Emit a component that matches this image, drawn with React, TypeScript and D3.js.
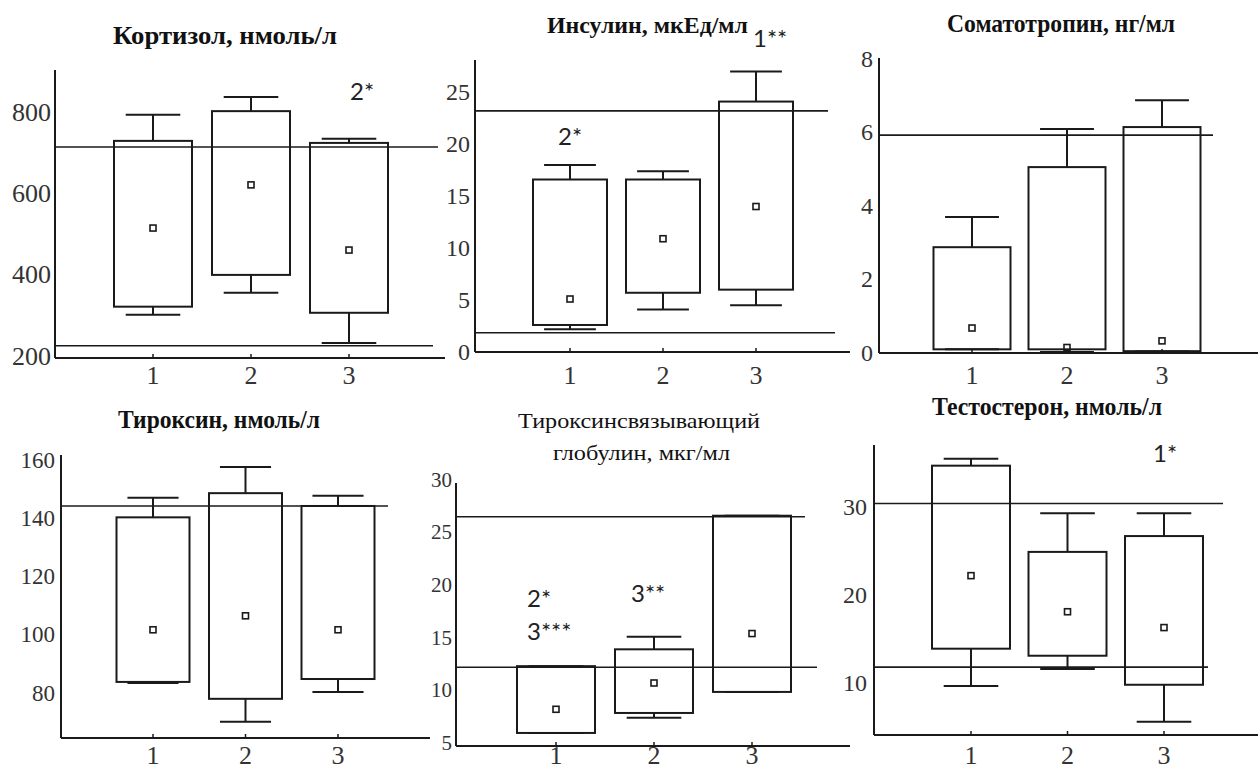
import React from 'react'
import * as d3 from 'd3'

// groups on the x axis
const groups = ['1', '2', '3']

// each row: [whisker low, box low, mean marker, box high, whisker high]
const cortisol = [[302, 322, 515, 729, 793], [356, 400, 621, 802, 837], [233, 307, 461, 724, 734]]
const cortisolNorm = [714, 226]
const cortisolTicks = [200, 400, 600, 800]

const insulin = [[2.2, 2.6, 5.1, 16.6, 18.0], [4.1, 5.7, 10.9, 16.6, 17.4], [4.5, 6.0, 14.0, 24.1, 27.0]]
const insulinNorm = [23.2, 1.85]
const insulinTicks = [0, 5, 10, 15, 20, 25]

const somatotropin = [[0.1, 0.1, 0.68, 2.88, 3.7], [0.03, 0.1, 0.15, 5.06, 6.1], [0.04, 0.05, 0.33, 6.15, 6.88]]
const somatotropinNorm = [5.93]
const somatotropinTicks = [0, 2, 4, 6, 8]

const thyroxine = [[83.4, 83.8, 101.7, 140.3, 147], [70.1, 78, 106.5, 148.6, 157.6], [80.3, 84.8, 101.7, 144.2, 147.7]]
const thyroxineNorm = [144.2]
const thyroxineTicks = [80, 100, 120, 140, 160]

const tbg = [[5.95, 5.95, 8.2, 12.3, 12.3], [7.4, 7.85, 10.7, 13.9, 15.1], [9.85, 9.85, 15.4, 26.6, 26.6]]
const tbgNorm = [26.5, 12.2]
const tbgTicks = [5, 10, 15, 20, 25, 30]

const testosterone = [[9.66, 13.9, 22.2, 34.7, 35.5], [11.6, 13.1, 18.1, 24.9, 29.3], [5.6, 9.8, 16.3, 26.7, 29.3]]
const testosteroneNorm = [30.4, 11.8]
const testosteroneTicks = [10, 20, 30]

const titles = [
  ['Кортизол, нмоль/л'],
  ['Инсулин, мкЕд/мл'],
  ['Соматотропин, нг/мл'],
  ['Тироксин, нмоль/л'],
  ['Тироксинсвязывающий', 'глобулин, мкг/мл'],
  ['Тестостерон, нмоль/л'],
]

const notes = [['2*'], ['2*', '1**'], [], [], ['2*', '3***', '3**'], ['1*']]

const serif = '"Liberation Serif", serif'
const sans = '"Lato", sans-serif'

// layout of each small chart in pixels
const panels = [
  { data: cortisol, norm: cortisolNorm, ticks: cortisolTicks, left: 55, top: 70, bottom: 358, right: 445,
    domain: [196, 903], centers: [153, 349], boxW: 78, normEnd: [438, 433], tickSize: 26, labelRight: 51, xLabelY: 384,
    title: [{ x1: 113, x2: 337, y: 44, size: 26, bold: true }],
    notePos: [[350, 100]] },
  { data: insulin, norm: insulinNorm, ticks: insulinTicks, left: 475, top: 60, bottom: 352, right: 850,
    domain: [0, 28.1], centers: [570, 756], boxW: 74, normEnd: [828, 835], tickSize: 24, labelRight: 470, xLabelY: 384,
    title: [{ x1: 547, x2: 748, y: 33, size: 24, bold: true }],
    notePos: [[558, 145], [753, 47]] },
  { data: somatotropin, norm: somatotropinNorm, ticks: somatotropinTicks, left: 879, top: 58, bottom: 353, right: 1258,
    domain: [0, 8.03], centers: [972, 1162], boxW: 77, normEnd: [1213], tickSize: 24, labelRight: 873, xLabelY: 384,
    title: [{ x1: 947, x2: 1175, y: 32, size: 25, bold: true }],
    notePos: [] },
  { data: thyroxine, norm: thyroxineNorm, ticks: thyroxineTicks, left: 61, top: 455, bottom: 738, right: 430,
    domain: [64.55, 161.7], centers: [153, 338], boxW: 73, normEnd: [388], tickSize: 23, labelRight: 55, xLabelY: 764,
    title: [{ x1: 118, x2: 320, y: 428, size: 26, bold: true }],
    notePos: [] },
  { data: tbg, norm: tbgNorm, ticks: tbgTicks, left: 456, top: 483, bottom: 746, right: 850,
    domain: [4.71, 29.71], centers: [556, 752], boxW: 78, normEnd: [805, 817], tickSize: 21, labelRight: 452, xLabelY: 764,
    title: [{ x1: 518, x2: 760, y: 428, size: 21, bold: false }, { x1: 553, x2: 730, y: 460, size: 21, bold: false }],
    notePos: [[527, 607], [527, 640], [631, 602]] },
  { data: testosterone, norm: testosteroneNorm, ticks: testosteroneTicks, left: 874, top: 445, bottom: 735, right: 1258,
    domain: [4.09, 37.05], centers: [971, 1164], boxW: 78, normEnd: [1223, 1208], tickSize: 24, labelRight: 867, xLabelY: 764,
    title: [{ x1: 932, x2: 1162, y: 415, size: 26, bold: true }],
    notePos: [[1153, 462]] },
]

const ink = '#1a1a1a'

function Panel({ p, idx }: { p: any; idx: number }) {
  const y = d3.scaleLinear().domain(p.domain).range([p.bottom, p.top])
  const x = d3.scalePoint().domain(groups).range(p.centers)
  const capW = p.boxW * 0.7
  return (
    <g>
      {titles[idx].map((t, i) => {
        const tb = p.title[i]
        return (
          <text key={'t' + i} x={tb.x1} y={tb.y} style={{ fontFamily: serif, fontSize: tb.size, fontWeight: tb.bold ? 700 : 400 }}
            fill="#111" textLength={tb.x2 - tb.x1} lengthAdjust="spacingAndGlyphs">{t}</text>
        )
      })}
      {/* norm lines */}
      {p.norm.map((v: number, i: number) => (
        <line key={'n' + i} x1={p.left} x2={p.normEnd[i]} y1={y(v)} y2={y(v)} stroke={ink} strokeWidth={1.6} />
      ))}
      {/* boxes */}
      {p.data.map((d: number[], i: number) => {
        const cx = x(groups[i]) as number
        return (
          <g key={'b' + i} stroke={ink} strokeWidth={2} fill="none">
            <line x1={cx} x2={cx} y1={y(d[3])} y2={y(d[4])} />
            <line x1={cx} x2={cx} y1={y(d[1])} y2={y(d[0])} />
            <line x1={cx - capW / 2} x2={cx + capW / 2} y1={y(d[4])} y2={y(d[4])} />
            <line x1={cx - capW / 2} x2={cx + capW / 2} y1={y(d[0])} y2={y(d[0])} />
            <rect x={cx - p.boxW / 2} y={y(d[3])} width={p.boxW} height={y(d[1]) - y(d[3])} />
            <rect x={cx - 3} y={y(d[2]) - 3} width={6} height={6} strokeWidth={1.6} />
          </g>
        )
      })}
      {/* axes */}
      <line x1={p.left} x2={p.left} y1={p.top} y2={p.bottom} stroke={ink} strokeWidth={2} />
      <line x1={p.left} x2={p.right} y1={p.bottom} y2={p.bottom} stroke={ink} strokeWidth={2} />
      {groups.map(g => (
        <g key={'x' + g}>
          <line x1={x(g)} x2={x(g)} y1={p.bottom} y2={p.bottom - 4} stroke={ink} strokeWidth={1.5} />
          <text x={x(g)} y={p.xLabelY} textAnchor="middle" style={{ fontFamily: serif, fontSize: 26 }} fill="#333">{g}</text>
        </g>
      ))}
      {p.ticks.map((t: number) => (
        <text key={'y' + t} x={p.labelRight} y={y(t)} dy="0.33em" textAnchor="end"
          style={{ fontFamily: serif, fontSize: p.tickSize }} fill="#333">{t}</text>
      ))}
      {notes[idx].map((n, i) => (
        <text key={'a' + i} x={p.notePos[i][0]} y={p.notePos[i][1]} style={{ fontFamily: sans, fontSize: 24 }} fill="#222">{n}</text>
      ))}
    </g>
  )
}

export default function App() {
  return (
    <svg width={1258} height={769} style={{ position: 'absolute', left: 0, top: 0, display: 'block', background: '#fff' }}>
      <rect width={1258} height={769} fill="#fff" />
      {panels.map((p, i) => <Panel key={i} p={p} idx={i} />)}
    </svg>
  )
}
